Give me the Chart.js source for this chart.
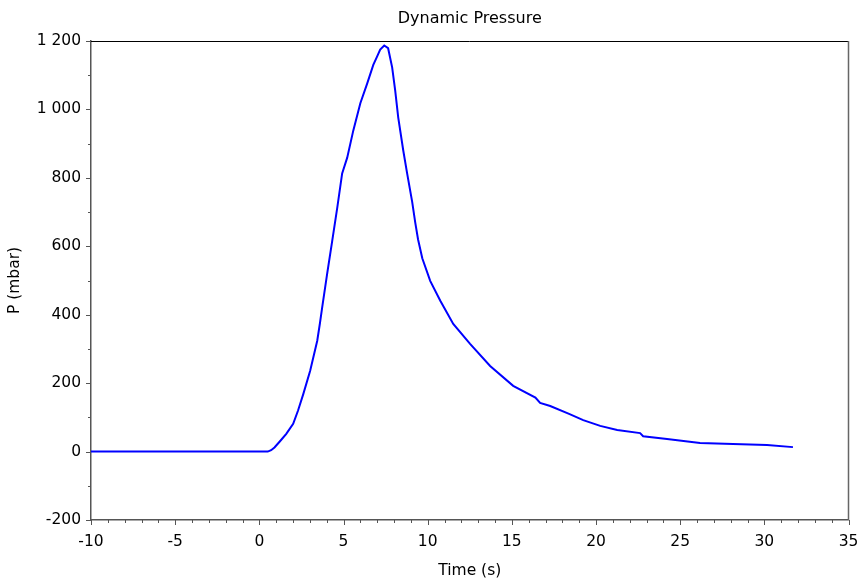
<!DOCTYPE html>
<html>
<head>
<meta charset="utf-8">
<script src="https://cdn.jsdelivr.net/npm/chart.js@4.4.1/dist/chart.umd.min.js"></script>
<style>
  html, body { margin: 0; padding: 0; background: #fff; }
  #wrap { width: 860px; height: 582px; }
</style>
</head>
<body>
<div id="wrap"><canvas id="chart" width="860" height="582"></canvas></div>
<script>
// time (s) and dynamic pressure (mbar)
const timeS = [-10, -8, -6, -4, -2, 0, 0.5, 0.7, 0.9, 1.24, 1.6, 2.01, 2.3, 2.61, 3.02, 3.44, 3.6, 3.73, 4.03, 4.33, 4.63,
  4.92, 5.22, 5.58, 6.0, 6.41, 6.77, 7.0, 7.18, 7.42, 7.65, 7.89, 8.07, 8.25, 8.55, 8.78, 9.08, 9.26, 9.43, 9.68, 10.15, 10.75,
  11.52, 12.52, 13.71, 15.08, 16.4, 16.68, 17.28, 18.4, 19.24, 20.25, 21.26, 22.62, 22.8, 24.22, 26.18, 28.14, 30.16, 31.7];
const pressure = [0, 0, 0, 0, 0, 0, 0, 4, 12, 31, 52, 81, 120, 168, 236, 324, 375, 420, 520, 616, 713,
  813, 859, 938, 1018, 1076, 1130, 1155, 1175, 1187, 1179, 1123, 1056, 977, 880, 813, 730, 670, 620, 565, 499, 441,
  373, 315, 250, 192, 158, 142, 133, 110, 92, 75, 63, 54, 45, 37, 25, 22, 19, 13];

const xMin = -10, xMax = 35, xStep = 1, xLabelEvery = 5;
const yMin = -200, yMax = 1200, yStep = 100, yLabelEvery = 200;

const points = timeS.map((t, i) => ({ x: t, y: pressure[i] }));
const FONT = '"DejaVu Sans", Verdana, sans-serif';

const fmtThousands = v => {
  const s = String(Math.abs(v)).replace(/\B(?=(\d{3})+(?!\d))/g, ' ');
  return v < 0 ? '-' + s : s;
};

// frame lines, minor/major tick marks and centred title
const framePlugin = {
  id: 'frame',
  afterDraw(chart) {
    const { ctx, chartArea: a, scales } = chart;
    ctx.save();
    ctx.strokeStyle = '#000';
    ctx.lineWidth = 1;
    ctx.beginPath();
    ctx.moveTo(a.left, a.top + 0.5);
    ctx.lineTo(a.right, a.top + 0.5);
    ctx.stroke();
    ctx.strokeStyle = '#666';
    ctx.lineWidth = 1.5;
    ctx.beginPath();
    ctx.moveTo(a.right, a.top);
    ctx.lineTo(a.right, a.bottom);
    ctx.stroke();

    ctx.strokeStyle = '#555';
    ctx.lineWidth = 1;
    scales.x.ticks.forEach(t => {
      const px = Math.round(scales.x.getPixelForValue(t.value)) + 0.5;
      const len = t.value % xLabelEvery === 0 ? 5 : 3;
      ctx.beginPath();
      ctx.moveTo(px, a.bottom);
      ctx.lineTo(px, a.bottom + len);
      ctx.stroke();
    });
    scales.y.ticks.forEach(t => {
      const py = Math.round(scales.y.getPixelForValue(t.value)) + 0.5;
      const len = t.value % yLabelEvery === 0 ? 5 : 3;
      ctx.beginPath();
      ctx.moveTo(a.left, py);
      ctx.lineTo(a.left - len, py);
      ctx.stroke();
    });

    ctx.fillStyle = '#000';
    ctx.font = '16px ' + FONT;
    ctx.textAlign = 'center';
    ctx.textBaseline = 'middle';
    ctx.fillText('Dynamic Pressure', (a.left + a.right) / 2, 19);
    ctx.restore();
  }
};

const ctx = document.getElementById('chart').getContext('2d');
new Chart(ctx, {
  type: 'line',
  data: {
    datasets: [{
      label: 'P',
      data: points,
      borderColor: '#0000ff',
      borderWidth: 2,
      pointRadius: 0,
      tension: 0,
      fill: false
    }]
  },
  options: {
    responsive: false,
    animation: false,
    layout: { padding: { top: 41, right: 0, bottom: 0, left: 0 } },
    plugins: {
      legend: { display: false },
      tooltip: { enabled: false },
      title: { display: false }
    },
    scales: {
      x: {
        type: 'linear',
        min: xMin,
        max: xMax,
        grid: { display: false, drawTicks: false },
        border: { display: true, color: '#555', width: 1.5 },
        ticks: {
          stepSize: xStep,
          autoSkip: false,
          maxRotation: 0,
          padding: 13,
          color: '#000',
          font: { family: FONT, size: 15.5 },
          callback: v => (v % xLabelEvery === 0 ? String(v) : '')
        },
        title: {
          display: true,
          text: 'Time (s)',
          color: '#000',
          font: { family: FONT, size: 15.5 },
          padding: { top: 0, bottom: 2 }
        },
        afterFit: s => {
          s.height = 62;
          s.paddingLeft = 0;
          s.paddingRight = 11.5;
        }
      },
      y: {
        type: 'linear',
        min: yMin,
        max: yMax,
        grid: { display: false, drawTicks: false },
        border: { display: true, color: '#555', width: 1.5 },
        ticks: {
          stepSize: yStep,
          autoSkip: false,
          padding: 10,
          color: '#000',
          font: { family: FONT, size: 15.5 },
          callback: v => (v % yLabelEvery === 0 ? fmtThousands(v) : '')
        },
        title: {
          display: true,
          text: 'P (mbar)',
          color: '#000',
          font: { family: FONT, size: 15.5 },
          padding: { top: 6, bottom: 0 }
        },
        afterFit: s => { s.width = 91; }
      }
    }
  },
  plugins: [framePlugin]
});
</script>
</body>
</html>
